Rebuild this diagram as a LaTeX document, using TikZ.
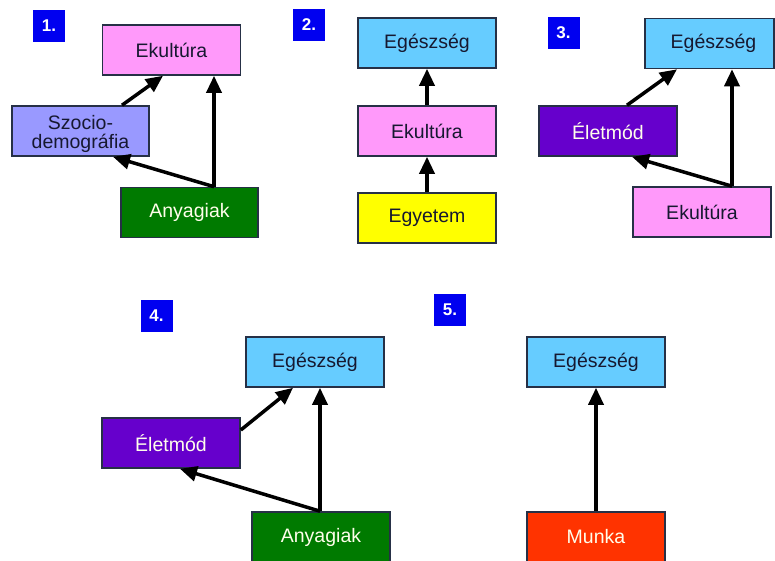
\documentclass[tikz,border=0pt]{standalone}
\usepackage{fontspec}
\setmainfont{Liberation Sans}
\usetikzlibrary{arrows.meta}

\definecolor{edge}{RGB}{38,48,70}
\definecolor{inkdark}{RGB}{22,24,48}
\definecolor{cpink}{RGB}{255,153,250}
\definecolor{clav}{RGB}{153,153,255}
\definecolor{cgreen}{RGB}{0,122,0}
\definecolor{csky}{RGB}{102,204,255}
\definecolor{cyellow}{RGB}{255,255,0}
\definecolor{cpurple}{RGB}{102,0,204}
\definecolor{cred}{RGB}{255,51,0}
\definecolor{cnum}{RGB}{0,0,240}

\tikzset{
  box/.style={draw=edge, line width=1.6pt, minimum width=138pt, minimum height=50pt,
    inner sep=0pt, align=center, font=\fontsize{19.5}{20}\selectfont, text=inkdark},
  lightbox/.style={box, text=white!92!yellow},
  numbox/.style={fill=cnum, minimum width=32pt, minimum height=32pt, inner sep=0pt,
    text=white, font=\fontsize{17}{19}\selectfont\bfseries},
  conn/.style={line width=3.5pt, draw=black, -{Triangle[length=17pt,width=15pt]}}
}

\begin{document}
\begin{tikzpicture}[x=1pt,y=-1pt]
\useasboundingbox (0,0) rectangle (775,561);
\clip (0,0) rectangle (775,561);
\fill[white] (0,0) rectangle (775,561);

% panel 1
\node[numbox] (n1) at (49,26) {1.};
\node[box, fill=cpink] (ek1) at (171.5,50) {Ekultúra};
\node[box, fill=clav, minimum width=137pt] (szo) at (80.5,131)
  {\raisebox{-9pt}[0pt][0pt]{\begin{tabular}{@{}c@{}}Szocio-\\[-2pt]demográfia\end{tabular}}};
\node[lightbox, fill=cgreen, minimum width=137pt] (any1) at (189.5,212.5) {Anyagiak};
\draw[conn] ([xshift=24.5pt]any1.north) -- ([xshift=42.5pt]ek1.south);
\draw[conn] ([xshift=24.5pt]any1.north) -- ([xshift=32.5pt]szo.south);
\draw[conn] ([xshift=41.5pt]szo.north) -- ([xshift=-8.5pt]ek1.south);

% panel 2
\node[numbox] (n2) at (309,25) {2.};
\node[box, fill=csky] (eg2) at (427,43) {Egészség};
\node[box, fill=cpink] (ek2) at (427,131) {Ekultúra};
\node[box, fill=cyellow] (egy) at (427,218) {Egyetem};
\draw[conn] (egy.north) -- (ek2.south);
\draw[conn] (ek2.north) -- (eg2.south);

% panel 3
\node[numbox] (n3) at (563.5,33) {3.};
\node[box, fill=csky, minimum width=129pt] (eg3) at (709.5,43.5) {\hspace*{8pt}Egészség};
\node[lightbox, fill=cpurple] (ele3) at (608,131) {Életmód};
\node[box, fill=cpink] (ek3) at (702,212) {Ekultúra};
\draw[conn] ([xshift=30pt]ek3.north) -- ([xshift=22.5pt]eg3.south);
\draw[conn] ([xshift=30pt]ek3.north) -- ([xshift=24pt]ele3.south);
\draw[conn] ([xshift=19pt]ele3.north) -- ([xshift=-32.5pt]eg3.south);

% panel 4
\node[numbox] (n4) at (156.5,316) {4.};
\node[box, fill=csky] (eg4) at (315,362) {Egészség};
\node[lightbox, fill=cpurple] (ele4) at (171,443) {Életmód};
\node[lightbox, fill=cgreen] (any4) at (321,537) {Anyagiak};
\draw[conn] ([xshift=-1pt]any4.north) -- ([xshift=5pt]eg4.south);
\draw[conn] ([xshift=-1pt]any4.north) -- ([xshift=9pt]ele4.south);
\draw[conn] ([yshift=13pt]ele4.east) -- ([xshift=-22pt]eg4.south);

% panel 5
\node[numbox] (n5) at (450,309.5) {5.};
\node[box, fill=csky] (eg5) at (596,362) {Egészség};
\node[lightbox, fill=cred] (mun) at (596,537) {Munka};
\draw[conn] (mun.north) -- (eg5.south);
\end{tikzpicture}
\end{document}
